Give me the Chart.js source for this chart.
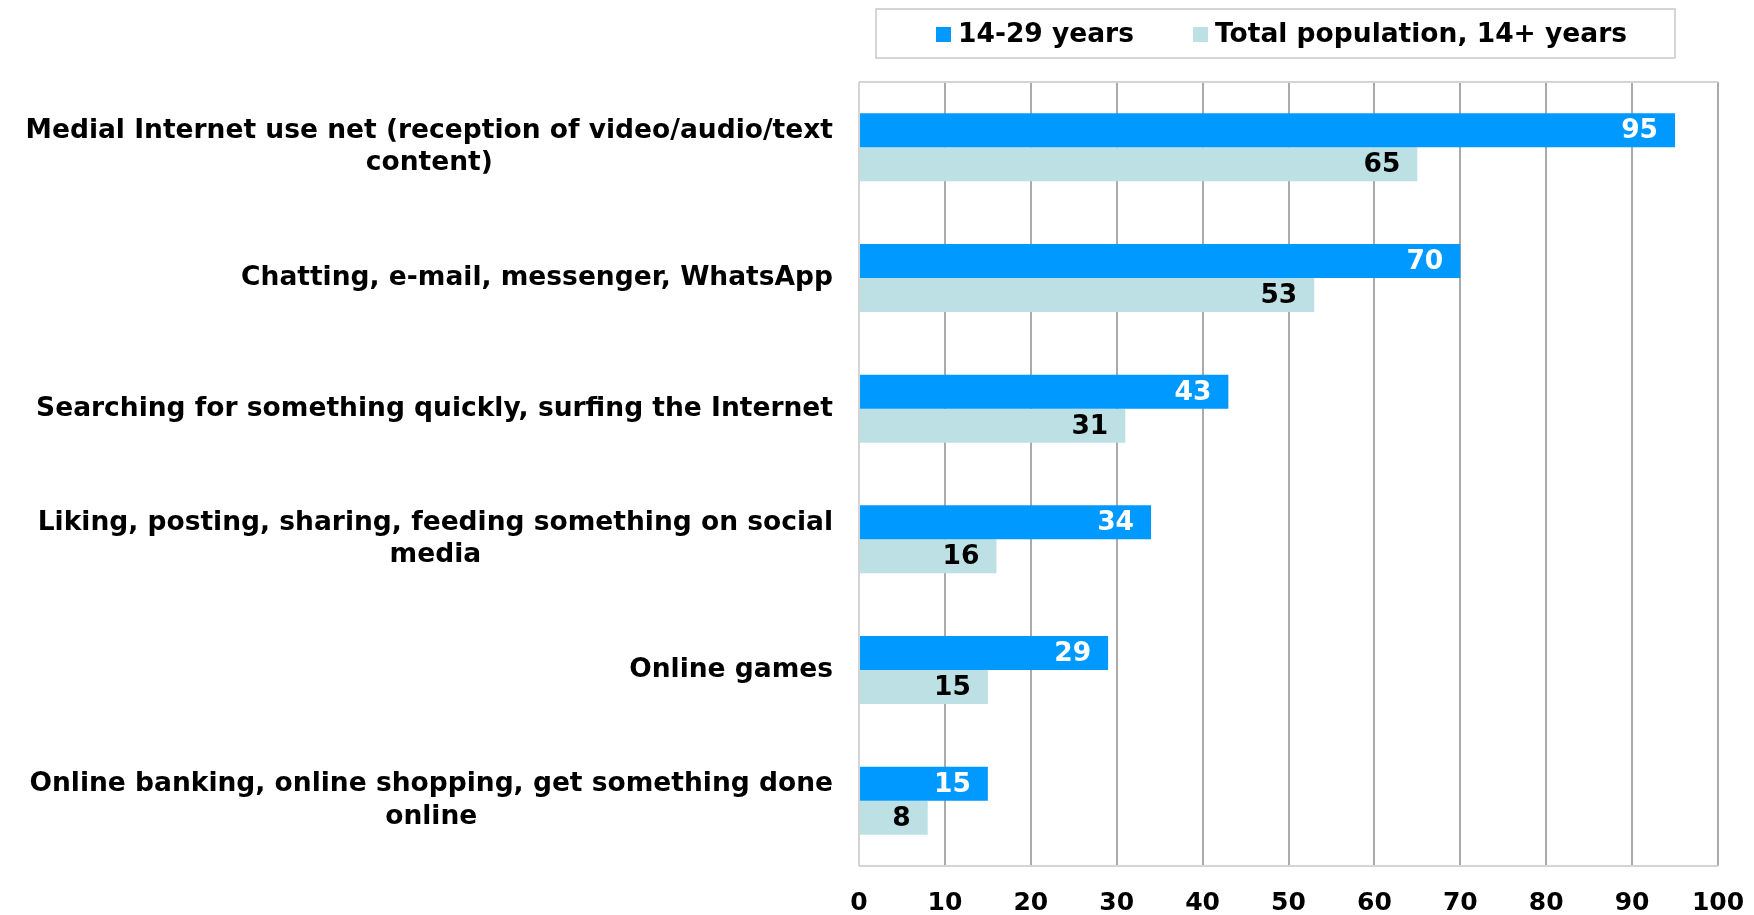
<!DOCTYPE html>
<html>
<head>
<meta charset="utf-8">
<script src="https://cdn.jsdelivr.net/npm/chart.js@4.4.1/dist/chart.umd.min.js"></script>
<style>
  html, body { margin: 0; padding: 0; background: #fff; }
  canvas { display: block; }
</style>
</head>
<body>
<canvas id="usageChart" width="1754" height="915"></canvas>
<script>
// Activities (multi-line labels), shares in percent
const categories = [
    ['Medial Internet use net (reception of video/audio/text', 'content)'],
    ['Chatting, e-mail, messenger, WhatsApp'],
    ['Searching for something quickly, surfing the Internet'],
    ['Liking, posting, sharing, feeding something on social', 'media'],
    ['Online games'],
    ['Online banking, online shopping, get something done', 'online']
];
const youngValues = [95, 70, 43, 34, 29, 15];
const totalValues = [65, 53, 31, 16, 15, 8];
const xTicks = [0, 10, 20, 30, 40, 50, 60, 70, 80, 90, 100];
const seriesNames = ['14-29 years', 'Total population, 14+ years'];

const FONT = 'DejaVu Sans';
Chart.defaults.font.family = FONT;

// Frame, category labels, value labels and the boxed legend
const decorations = {
    id: 'decorations',
    beforeDatasetsDraw(chart) {
        const { ctx, chartArea: a } = chart;
        ctx.save();
        ctx.strokeStyle = '#d4d4d4';
        ctx.lineWidth = 2;
        ctx.beginPath();
        ctx.moveTo(a.left, a.top);
        ctx.lineTo(a.right, a.top);
        ctx.moveTo(a.left, a.bottom);
        ctx.lineTo(a.right, a.bottom);
        ctx.stroke();
        ctx.restore();
    },
    afterDatasetsDraw(chart) {
        const { ctx, chartArea: a } = chart;
        const yScale = chart.scales.y;
        ctx.save();

        // category labels: block right-aligned, lines centred inside the block
        ctx.font = 'bold 26.5px ' + FONT;
        ctx.fillStyle = '#000';
        ctx.textBaseline = 'middle';
        ctx.textAlign = 'center';
        const lineH = 32.5;
        chart.data.labels.forEach((lines, i) => {
            const cy = yScale.getPixelForTick(i);
            const w = Math.max(...lines.map(l => ctx.measureText(l).width));
            const cx = a.left - 26 - w / 2;
            lines.forEach((l, k) => {
                ctx.fillText(l, cx, cy + (k - (lines.length - 1) / 2) * lineH);
            });
        });

        // values at the inner end of each bar
        ctx.font = 'bold 26.5px ' + FONT;
        ctx.textAlign = 'right';
        chart.data.datasets.forEach((ds, di) => {
            const meta = chart.getDatasetMeta(di);
            meta.data.forEach((bar, i) => {
                ctx.fillStyle = di === 0 ? '#fff' : '#000';
                ctx.fillText(String(ds.data[i]), bar.x - 17, bar.y + 1);
            });
        });

        // legend box
        const box = { x: 876, y: 9, w: 799, h: 49 };
        ctx.strokeStyle = '#c8c8c8';
        ctx.lineWidth = 1.5;
        ctx.strokeRect(box.x, box.y, box.w, box.h);
        ctx.font = 'bold 26.5px ' + FONT;
        ctx.textAlign = 'left';
        const starts = [936, 1193];
        chart.data.datasets.forEach((ds, di) => {
            const x = starts[di];
            ctx.fillStyle = ds.backgroundColor;
            ctx.fillRect(x, 27, 15, 15);
            ctx.fillStyle = '#000';
            ctx.fillText(ds.label, x + 22, 35);
        });
        ctx.restore();
    }
};

new Chart(document.getElementById('usageChart'), {
    type: 'bar',
    data: {
        labels: categories,
        datasets: [
            { label: seriesNames[0], data: youngValues, backgroundColor: '#0099ff' },
            { label: seriesNames[1], data: totalValues, backgroundColor: '#bce0e3' }
        ]
    },
    options: {
        indexAxis: 'y',
        responsive: false,
        animation: false,
        devicePixelRatio: 1,
        layout: { padding: { top: 82, right: 36, left: 0, bottom: 0 } },
        datasets: { bar: { categoryPercentage: 0.52, barPercentage: 1.0 } },
        plugins: {
            legend: { display: false },
            tooltip: { enabled: false }
        },
        scales: {
            x: {
                position: 'bottom',
                min: 0,
                max: 100,
                afterBuildTicks: s => { s.ticks = xTicks.map(v => ({ value: v })); },
                afterFit: s => {
                    s.height = 49;
                    s.paddingLeft = 0;
                    s.paddingRight = 0;
                },
                ticks: {
                    color: '#000',
                    padding: 22,
                    font: { size: 25, weight: 'bold', family: FONT }
                },
                grid: {
                    drawTicks: false,
                    lineWidth: 2,
                    color: c => (c.index === 0 ? '#d4d4d4' : '#aaaaaa')
                },
                border: { display: false }
            },
            y: {
                afterFit: s => { s.width = 859; },
                ticks: { display: false },
                grid: { display: false },
                border: { display: false }
            }
        }
    },
    plugins: [decorations]
});
</script>
</body>
</html>
